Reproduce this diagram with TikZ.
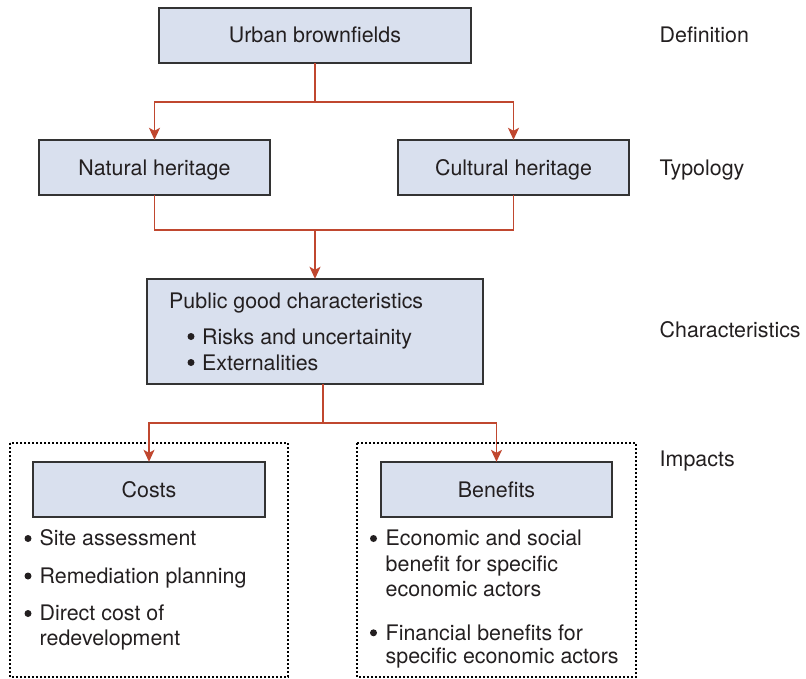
\documentclass[tikz,border=0pt]{standalone}
\usepackage{fontspec}
\setmainfont{TeX Gyre Heros}
\usetikzlibrary{arrows.meta}
\definecolor{boxfill}{HTML}{D9E0EE}
\definecolor{boxline}{HTML}{333333}
\definecolor{conn}{HTML}{C0472F}
\definecolor{txt}{HTML}{231F20}
\begin{document}
\begin{tikzpicture}[x=1pt,y=-1pt,
  every node/.style={text=txt,font=\fontsize{21.4}{25}\selectfont,inner sep=0pt},
  blockbox/.style={draw=boxline,fill=boxfill,line width=1.4pt},
  connector/.style={draw=conn,line width=1.4pt},
  arrowline/.style={connector,-{Stealth[length=12pt,width=11pt,inset=3pt]}},
  dotbox/.style={draw=black,line width=1.6pt,dash pattern=on 1.6pt off 2.4pt},
  txtline/.style={anchor=base west},
  bul/.style={circle,fill=txt,minimum size=7pt,inner sep=0pt}]
\useasboundingbox (0,0) rectangle (806,678);
% dotted impact boxes
\draw[dotbox] (10,443) rectangle (288,677);
\draw[dotbox] (357,443) rectangle (636,677);
% boxes
\path[blockbox] (159,8) rectangle (471,63);
\node (urban) [minimum width=312pt,minimum height=55pt] at (315,35.5) {};
\node[anchor=base] at (315,42.7) {Urban brownfields};

\path[blockbox] (39,140) rectangle (270,195);
\node (natural) [minimum width=231pt,minimum height=55pt] at (154.5,167.5) {};
\node[anchor=base] at (154.5,175) {Natural heritage};

\path[blockbox] (398,140) rectangle (629,195);
\node (cultural) [minimum width=231pt,minimum height=55pt] at (513.5,167.5) {};
\node[anchor=base] at (513.5,175) {Cultural heritage};

\path[blockbox] (147,279) rectangle (483,384);
\node (public) [minimum width=336pt,minimum height=105pt] at (315,331.5) {};
\node[txtline] (pg) at (169,308.3) {Public good characteristics};
\node[bul] (b1) at (191,336.5) {};
\node[txtline] (risk) at (202,344) {Risks and uncertainity};
\node[bul] (b2) at (191,362.5) {};
\node[txtline] (ext) at (202,370) {Externalities};

\path[blockbox] (33,462) rectangle (265,517);
\node (costs) [minimum width=232pt,minimum height=55pt] at (149,489.5) {};
\node[anchor=base] at (149,497.3) {Costs};

\path[blockbox] (381,462) rectangle (612,517);
\node (benefits) [minimum width=231pt,minimum height=55pt] at (496.5,489.5) {};
\node[anchor=base] at (496.5,497.3) {Benefits};

% costs bullets
\node[bul] (cb1) at (28,538.5) {};
\node[txtline] (c1) at (39.5,545.7) {Site assessment};
\node[bul] (cb2) at (28,576) {};
\node[txtline] (c2) at (39.5,583.3) {Remediation planning};
\node[bul] (cb3) at (28,613.5) {};
\node[txtline] (c3a) at (39.5,620.7) {Direct cost of};
\node[txtline] (c3b) at (39.5,645.7) {redevelopment};

% benefits bullets
\node[bul] (bb1) at (373.5,538.5) {};
\node[txtline] (e1a) at (385.5,545.7) {Economic and social};
\node[txtline] (e1b) at (385.5,571) {benefit for specific};
\node[txtline] (e1c) at (385.5,596) {economic actors};
\node[bul] (bb2) at (373.5,632.8) {};
\node[txtline] (f1a) at (385.5,640) {Financial benefits for};
\node[txtline] (f1b) at (385.5,663.3) {specific economic actors};

% level labels
\node[txtline] (ldef) at (659.5,42.7) {Definition};
\node[txtline] (ltyp) at (659.5,175) {Typology};
\node[txtline] (lchar) at (659.5,337.3) {Characteristics};
\node[txtline] (limp) at (659.5,466) {Impacts};

% connectors
\coordinate (j1) at (315,102);
\draw[connector] (urban.south) -- (j1);
\draw[arrowline] (j1) -| (natural.north);
\draw[arrowline] (j1) -| (cultural.north);

\coordinate (j2) at (315,230);
\draw[connector] (natural.south) |- (j2);
\draw[connector] (cultural.south) |- (j2);
\draw[arrowline] (j2) -- (public.north);

\coordinate (pb) at (323,384);
\coordinate (j3) at (323,423);
\draw[connector] (pb) -- (j3);
\draw[arrowline] (j3) -| (costs.north);
\draw[arrowline] (j3) -| (benefits.north);
\end{tikzpicture}
\end{document}
